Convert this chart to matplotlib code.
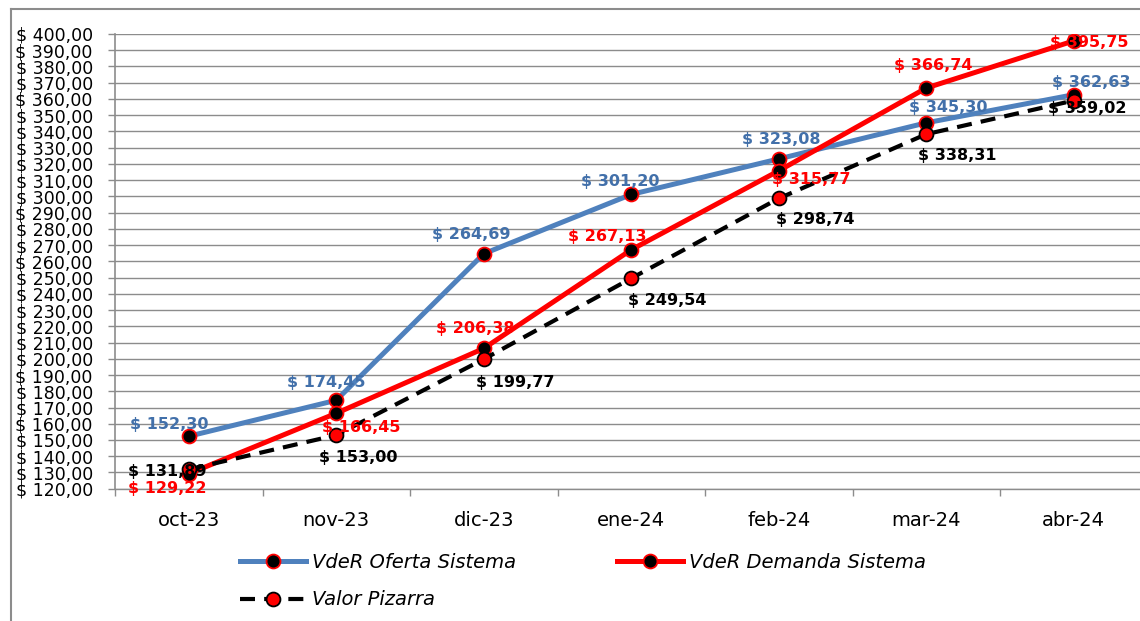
import numpy as np
import matplotlib
matplotlib.use("Agg")
import matplotlib.pyplot as plt
from matplotlib.lines import Line2D
from matplotlib.ticker import FuncFormatter, FixedLocator

# ---- data ----
months = ["oct-23", "nov-23", "dic-23", "ene-24", "feb-24", "mar-24", "abr-24"]
oferta = [152.30, 174.45, 264.69, 301.20, 323.08, 345.30, 362.63]
demanda = [129.22, 166.45, 206.38, 267.13, 315.77, 366.74, 395.75]
pizarra = [131.89, 153.00, 199.77, 249.54, 298.74, 338.31, 359.02]
series_names = ["VdeR Oferta Sistema", "VdeR Demanda Sistema", "Valor Pizarra"]

# label offsets in pixels (dx right, dy down)
off_oferta = [(-20, -12), (-10, -18), (-13, -19), (-11, -13), (3, -19), (22, -15), (18, -12)]
off_demanda = [(-21, 15), (25, 14), (-8, -20), (-24, -13), (33, 9), (7, -23), (16, 2)]
off_pizarra = [(-21, 2), (22, 22), (32, 23), (36, 22), (37, 21), (31, 21), (14, 8)]

W, H = 1140, 621
fig = plt.figure(figsize=(W / 100, H / 100), dpi=100)
ax = fig.add_axes([115 / W, 1 - 488.7 / H, (1147.5 - 115) / W, (488.7 - 34) / H])

GRID = "#8c8c8c"
BLUE = "#4F81BD"
BLUE_LBL = "#4270AA"
RED = "#FF0000"

x = np.arange(len(months))
px2pt = 0.72


def draw(vals, color, lw, mfc, mec, lblcolor, offs, z, dashes=None):
    line, = ax.plot(x, vals, color=color, lw=lw, zorder=z, solid_capstyle="butt",
                    dash_capstyle="butt", solid_joinstyle="round")
    if dashes:
        line.set_dashes(dashes)
    ax.plot(x, vals, ls="none", marker="o", ms=10, mfc=mfc, mec=mec, mew=1.3, zorder=z + 0.5)
    for xi, v, (dx, dy) in zip(x, vals, offs):
        s = "$ " + f"{v:.2f}".replace(".", ",")
        ax.annotate(s, (xi, v), xytext=(dx * px2pt, -dy * px2pt), textcoords="offset points",
                    ha="center", va="center", color=lblcolor, fontsize=11.5, fontweight="bold",
                    zorder=10, annotation_clip=False)


draw(oferta, BLUE, 3.6, "black", RED, BLUE_LBL, off_oferta, 3)
draw(demanda, RED, 3.6, "black", RED, RED, off_demanda, 4)
draw(pizarra, "black", 3.0, RED, "black", "black", off_pizarra, 5, dashes=(3.6, 2.2))

ax.set_xlim(-0.5, 6.5)
ax.set_ylim(120, 400)
ax.set_yticks(np.arange(120, 401, 10))
ax.yaxis.set_major_formatter(FuncFormatter(lambda v, p: "$ " + f"{v:.2f}".replace(".", ",")))
ax.grid(axis="y", color=GRID, lw=1.0, zorder=0)
ax.set_axisbelow(True)

ax.set_xticks(x)
ax.set_xticklabels(months)
ax.xaxis.set_minor_locator(FixedLocator(np.arange(-0.5, 7, 1)))
ax.tick_params(axis="x", which="major", length=0, pad=16, labelsize=14)
ax.tick_params(axis="x", which="minor", length=5, color=GRID, width=1.0, direction="out")
ax.tick_params(axis="y", which="major", length=5, color=GRID, width=1.0, pad=11, labelsize=12.5)

for s in ["top", "right"]:
    ax.spines[s].set_visible(False)
ax.spines["left"].set_color(GRID)
ax.spines["left"].set_linewidth(1.2)
ax.spines["bottom"].set_color(GRID)
ax.spines["bottom"].set_linewidth(1.0)

# outer chart frame
fig.add_artist(Line2D([11 / W, 11 / W], [0, 1 - 9 / H], color=GRID, lw=1.5, transform=fig.transFigure))
fig.add_artist(Line2D([11 / W, 1], [1 - 9 / H, 1 - 9 / H], color=GRID, lw=1.5, transform=fig.transFigure))

# legend
h_of = Line2D([], [], color=BLUE, lw=3.6, marker="o", ms=10, mfc="black", mec=RED, mew=1.3)
h_de = Line2D([], [], color=RED, lw=3.6, marker="o", ms=10, mfc="black", mec=RED, mew=1.3)
h_pi = Line2D([], [], color="black", lw=3.0, ls=(0, (3.6, 2.2)), marker="o", ms=10, mfc=RED, mec="black", mew=1.3)
leg = fig.legend([h_of, h_pi, h_de], [series_names[0], series_names[2], series_names[1]],
                 ncol=2, loc="upper left", bbox_to_anchor=(240 / W, 1 - 553 / H),
                 frameon=False, handlelength=3.4, handletextpad=0.3, columnspacing=5.2,
                 labelspacing=0.95, borderpad=0, borderaxespad=0,
                 prop={"style": "italic", "size": 14})

fig.savefig("out.png", dpi=100)
